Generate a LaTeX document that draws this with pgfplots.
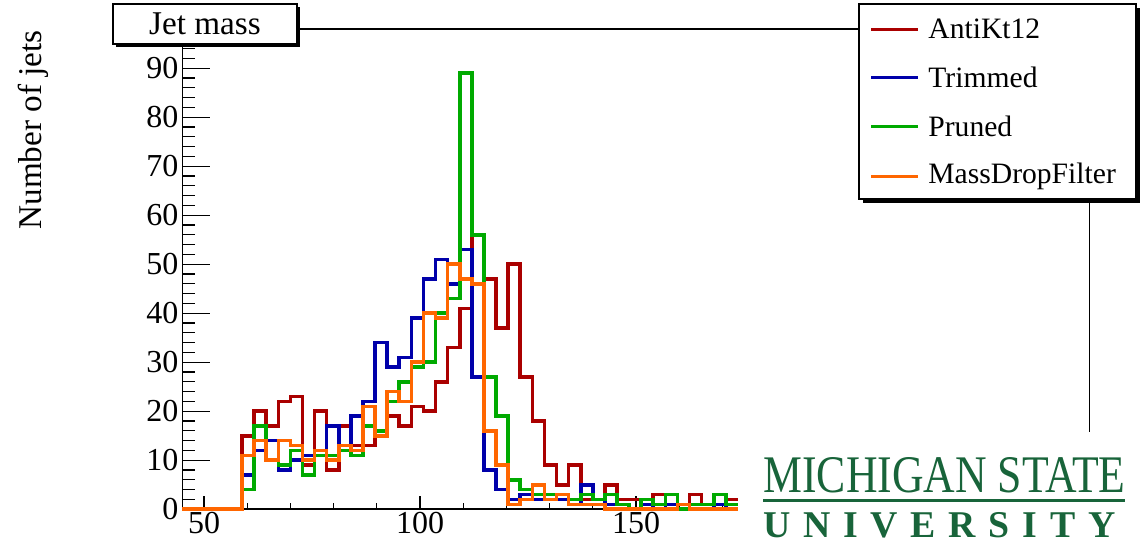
\documentclass[border=0pt]{standalone}
\usepackage{fontspec}
\setmainfont{Liberation Serif}
\usepackage{graphicx}
\usepackage{pgfplots}
\usepackage{pgfplotstable}
\pgfplotsset{compat=1.18}

\definecolor{hred}{RGB}{170,0,0}
\definecolor{hblue}{RGB}{0,0,170}
\definecolor{hgreen}{RGB}{0,170,0}
\definecolor{horange}{RGB}{255,102,0}
\definecolor{msugreen}{RGB}{24,100,58}

\pgfplotstableread{
x red blue green orange
45 0 0 0 0
58.8 15 7 4 11
61.6 20 12 17 14
64.4 17 14 10 10
67.2 22 8 9 14
70.0 23 10 12 13
72.8 9 11 7 10
75.6 20 11 11 12
78.4 8 17 11 10
81.2 17 13 12 13
84.0 13 19 11 12
86.8 13 22 17 21
89.6 15 34 16 15
92.4 19 29 22 24
95.2 17 31 26 22
98.0 21 39 29 30
100.8 20 47 30 40
103.6 26 51 40 39
106.4 33 46 43 50
109.2 41 53 89 47
112.0 56 27 56 46
114.8 47 8 27 16
117.6 37 4 19 9
120.4 50 2 6 1
123.2 27 3 4 2
126.0 18 2 3 5
128.8 9 2 3 2
131.6 5 2 3 3
134.4 9 1 2 1
137.2 2 5 3 1
140.0 2 2 2 1
142.8 5 1 3 0
145.6 2 1 1 0
148.4 2 0 0 0
151.2 2 1 2 0
154.0 3 0 1 0
156.8 1 1 3 0
159.6 1 0 0 1
162.4 3 0 1 0
165.2 1 0 1 0
168.0 1 1 3 0
170.8 2 0 1 0
173.6 2 0 1 0
176.4 2 0 1 0
}\jetdata

\begin{document}
\begin{tikzpicture}
\path[use as bounding box] (0,0) rectangle (571.5pt,277.5pt);
% x ticks
\begin{axis}[
  at={(91.2pt,22.85pt)}, anchor=south west,
  scale only axis, width=453.6pt, height=240.1pt,
  xmin=45, xmax=255, ymin=0, ymax=98,
  axis line style={draw=none},
  ytick=\empty,
  xtick={50,100,150}, minor xtick={60,70,80,90,110,120,130,140,160,170},
  xtick pos=bottom, tick align=inside,
  major tick length=6.5pt, minor tick length=3.2pt,
  tick style={black, line width=0.6pt},
  xticklabel style={font=\fontsize{16}{18}\selectfont, yshift=2pt},
  /pgf/number format/assume math mode=true,
]
\end{axis}
% frame, y ticks, data
\begin{axis}[
  at={(91.2pt,22.85pt)}, anchor=south west,
  scale only axis, width=453.6pt, height=240.1pt,
  xmin=45, xmax=255, ymin=0, ymax=98,
  xtick=\empty,
  ytick={0,10,...,90}, minor ytick={2,4,...,96},
  ytick pos=left, tick align=inside,
  major tick length=14pt, minor tick length=6.5pt,
  tick style={black, line width=0.6pt},
  axis line style={line width=0.8pt},
  yticklabel style={font=\fontsize{16}{18}\selectfont, xshift=1.5pt},
  /pgf/number format/assume math mode=true,
  clip=false,
]
\addplot[const plot mark left, hred, line width=1.8pt] table[x=x,y=red]{\jetdata};
\addplot[const plot mark left, hblue, line width=1.8pt] table[x=x,y=blue]{\jetdata};
\addplot[const plot mark left, hgreen, line width=1.8pt] table[x=x,y=green]{\jetdata};
\addplot[const plot mark left, horange, line width=1.8pt] table[x=x,y=orange]{\jetdata};
\end{axis}
\begin{scope}[x=0.5pt,y=-0.5pt,shift={(0pt,277.5pt)}]
  % title box
  \fill[black] (116,7) rectangle (300,47);
  \draw[fill=white, line width=0.6pt] (113,4) rectangle (297,44);
  \node[font=\fontsize{16.6}{18}\selectfont] at (205,24) {Jet mass};
  % legend
  \fill[black] (863,8) rectangle (1140,203);
  \draw[fill=white, line width=0.6pt] (859,4) rectangle (1136,199);
  \draw[hred, line width=1.5pt] (871,29.3) -- (918,29.3);
  \draw[hblue, line width=1.5pt] (871,77.3) -- (918,77.3);
  \draw[hgreen, line width=1.5pt] (871,126.7) -- (918,126.7);
  \draw[horange, line width=1.5pt] (871,176.7) -- (918,176.7);
  \begin{scope}[every node/.style={anchor=west, inner sep=0pt, font=\fontsize{14.8}{17}\selectfont}]
    \node at (928,29.3) {AntiKt12};
    \node at (928,77.3) {Trimmed};
    \node at (928,126.7) {Pruned};
    \node at (928,176.7) {MassDropFilter};
  \end{scope}
  % y label
  \node[rotate=90, font=\fontsize{16.6}{18}\selectfont] at (33,130) {Number of jets};
  % logo
  \fill[white] (738,432) rectangle (1143,555);
  \node[anchor=base west, inner sep=0pt, text=msugreen] at (763,493)
    {\resizebox{181pt}{17.5pt}{MICHIGAN STATE}};
  \fill[msugreen] (763,499.5) rectangle (1125,502);
  \node[anchor=base west, inner sep=0pt, text=msugreen] at (763,538)
    {\makebox[176pt][l]{\fontsize{18.9}{20}\selectfont\bfseries U\hfill N\hfill I\hfill V\hfill E\hfill R\hfill S\hfill I\hfill T\hfill Y}};
\end{scope}
\end{tikzpicture}
\end{document}
